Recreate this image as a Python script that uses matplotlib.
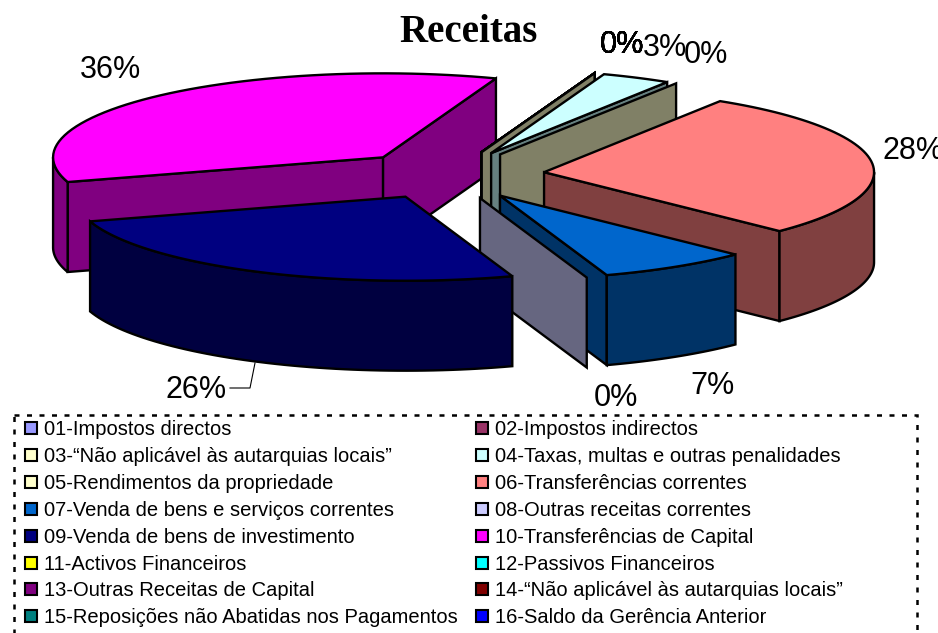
import matplotlib
matplotlib.use("Agg")
import matplotlib.pyplot as plt
import numpy as np
from matplotlib.patches import Polygon, Rectangle

categories = [
    "01-Impostos directos", "02-Impostos indirectos",
    "03-“Não aplicável às autarquias locais”", "04-Taxas, multas e outras penalidades",
    "05-Rendimentos da propriedade", "06-Transferências correntes",
    "07-Venda de bens e serviços correntes", "08-Outras receitas correntes",
    "09-Venda de bens de investimento", "10-Transferências de Capital",
    "11-Activos Financeiros", "12-Passivos Financeiros",
    "13-Outras Receitas de Capital", "14-“Não aplicável às autarquias locais”",
    "15-Reposições não Abatidas nos Pagamentos", "16-Saldo da Gerência Anterior",
]
# slice sizes estimated from the angles in the picture, printed labels as shown
values = [0, 0, 0, 3.4, 0, 28.4, 7.4, 0, 25.5, 35.3, 0, 0, 0, 0, 0, 0]
pct_labels = ["0%", "0%", "0%", "3%", "0%", "28%", "7%", "0%", "26%", "36%",
              "0%", "0%", "0%", "0%", "0%", "0%"]
colors = ["#9999FF", "#993366", "#FFFFCC", "#CCFFFF", "#FFFFCC", "#FF8080", "#0066CC", "#CCCCFF",
          "#000080", "#FF00FF", "#FFFF00", "#00FFFF", "#800080", "#800000", "#008080", "#0000FF"]

# geometry of the 3d pie, in pixels
CX, CY = 449, 175
RX, RY = 330, 84
DEPTH = 90
EXPLODE = 0.29
START = 20
LW = 1.7
# back to front
draw_order = [9, 10, 11, 12, 13, 14, 15, 0, 1, 2, 3, 4, 5, 6, 7, 8]
# label centres for slices; the zero slices at the top share one spot
label_pos = {0: (622, 45), 1: (622, 45), 2: (622, 45), 3: (665, 48.5), 4: (706, 55), 5: (913, 151),
             6: (712, 386), 7: (616, 398), 8: (196, 390), 9: (110, 70), 10: (622, 45),
             11: (622, 45), 12: (622, 45), 13: (622, 45), 14: (622, 45), 15: (622, 45)}


def darker(col):
    rgb = np.array(matplotlib.colors.to_rgb(col))
    return tuple(rgb * 0.5)


def rim(a0, a1, ox, oy, dz=0):
    th = np.radians(np.linspace(a0, a1, 60))
    return np.column_stack([ox + RX * np.sin(th), oy - RY * np.cos(th) + dz])


def draw_slice(ax, a0, a1, col):
    mid = np.radians((a0 + a1) / 2)
    ox = CX + EXPLODE * RX * np.sin(mid)
    oy = CY - EXPLODE * RY * np.cos(mid)
    side = darker(col)
    style = dict(edgecolor="black", linewidth=LW, joinstyle="miter")

    # radial walls, only those turned to the viewer
    for ang, normal in ((a0, a0 - 90), (a1, a1 + 90)):
        if np.cos(np.radians(normal)) < 0:
            p = rim(ang, ang, ox, oy)[0]
            wall = [(ox, oy), p, (p[0], p[1] + DEPTH), (ox, oy + DEPTH)]
            ax.add_patch(Polygon(wall, facecolor=side, **style))

    # outer skin on the front half (90..270, also shifted by a turn)
    for shift in (0, 360):
        lo = max(a0, 90 + shift)
        hi = min(a1, 270 + shift)
        if hi > lo:
            top = rim(lo, hi, ox, oy)
            bot = rim(hi, lo, ox, oy, DEPTH)
            ax.add_patch(Polygon(np.vstack([top, bot]), facecolor=side, **style))

    # top face
    if a1 > a0:
        top = np.vstack([[(ox, oy)], rim(a0, a1, ox, oy)])
        ax.add_patch(Polygon(top, facecolor=col, **style))


fig = plt.figure(figsize=(9.38, 6.33), dpi=100)
ax = fig.add_axes([0, 0, 1, 1])
ax.set_xlim(0, 938)
ax.set_ylim(633, 0)
ax.axis("off")

edges = START + np.cumsum([0] + [v * 3.6 for v in values])
for i in draw_order:
    draw_slice(ax, edges[i], edges[i + 1], colors[i])

ax.text(469, 32, "Receitas", family="Liberation Serif", fontweight="bold", fontsize=28,
        ha="center", va="center")

for i, lab in enumerate(pct_labels):
    x, y = label_pos[i]
    ax.text(x, y, lab, family="Liberation Sans", fontsize=22, ha="center", va="center")

# leader line of the 26% label
ax.plot([230, 250, 255], [388, 388, 363], color="black", lw=0.8)

# legend
ax.add_patch(Rectangle((14, 415), 903, 240, facecolor="none", edgecolor="black", lw=1.8,
                       linestyle=(0, (2, 3))))
row_y = [428, 455, 482, 509, 536, 563, 589, 616]
for i, name in enumerate(categories):
    col = i % 2
    y = row_y[i // 2]
    sx = [25, 476][col]
    ax.add_patch(Rectangle((sx, y - 6), 12, 12, facecolor=colors[i], edgecolor="black", lw=1.5))
    ax.text(sx + 19, y + 1.5, name, family="Liberation Sans", fontsize=14.5, ha="left", va="center")

fig.savefig("out.png", dpi=100)
